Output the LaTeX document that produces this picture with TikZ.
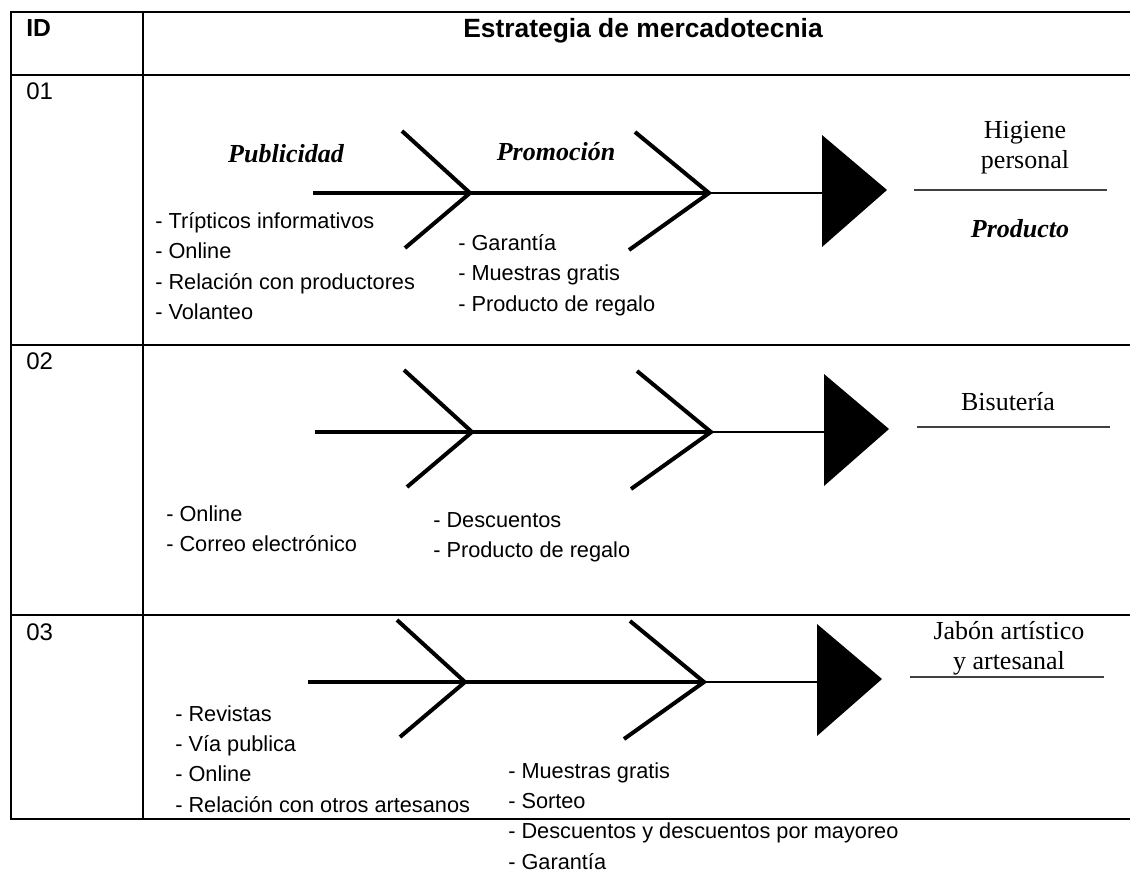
\documentclass[tikz,border=0pt]{standalone}
\usepackage{fontspec}
\setmainfont{Liberation Serif}
\setsansfont{Liberation Sans}
\usepackage{tikz}

\begin{document}
\begin{tikzpicture}[
  x=0.75pt, y=-0.75pt,
  grid/.style={line width=2.2pt},
  bone/.style={line width=3pt},
  neck/.style={line width=2pt},
  rule/.style={line width=1.2pt, draw=black!75},
  head/.style={inner sep=0pt, font=\sffamily\bfseries\fontsize{19.8}{23}\selectfont},
  idtext/.style={inner sep=0pt, anchor=west, font=\sffamily\fontsize{18}{22}\selectfont},
  items/.style={inner sep=0pt, anchor=north west, align=left, font=\sffamily\fontsize{16.3}{22.8}\selectfont},
  cat/.style={inner sep=0pt, font=\rmfamily\bfseries\itshape\fontsize{19.5}{22.5}\selectfont},
  prod/.style={inner sep=0pt, align=center, font=\rmfamily\fontsize{19.5}{22.5}\selectfont}
]
  \useasboundingbox (0,0) rectangle (1130,872);

  % table
  \draw[grid] (1130,12) -- (11,12) -- (11,819) -- (1130,819);
  \draw[grid] (143,12) -- (143,819);
  \foreach \ly in {75,345,615}
    \draw[grid] (11,\ly) -- (1130,\ly);

  \node[idtext, font=\sffamily\bfseries\fontsize{18.5}{22}\selectfont] (idhead) at (26,28) {ID};
  \node[head] (title) at (643,31) {Estrategia de mercadotecnia};
  \node[idtext] (id1) at (26,91) {01};
  \node[idtext] (id2) at (26,361) {02};
  \node[idtext] (id3) at (26,632) {03};

  % fishbones
  \foreach \r/\sy/\dx in {1/193/0, 2/432/2, 3/682/-5} {
    \coordinate (tail\r) at (313+\dx,\sy);
    \coordinate (ja\r) at (470+\dx,\sy);
    \coordinate (jb\r) at (709+\dx,\sy);
    \coordinate (base\r) at (822+\dx,\sy);
    \draw[bone] (tail\r) -- (jb\r);
    \draw[neck] (jb\r) -- (base\r);
    \draw[bone] (ja\r) ++(-68,-62) -- (ja\r) -- ++(-65,55);
    \draw[bone] (jb\r) ++(-74,-61) -- (jb\r) -- ++(-80,57);
    \fill (base\r) ++(0,-58) -- ++(65,55) -- ++(-65,57) -- cycle;
  }

  % row 01
  \node[cat] (pub1) at (286,154) {Publicidad};
  \node[cat] (promo1) at (556,152) {Promoción};
  \node[items] (pubitems1) at (155,212) {- Trípticos informativos\\- Online\\- Relación con productores\\- Volanteo};
  \node[items] (promoitems1) at (458,234) {- Garantía\\- Muestras gratis\\- Producto de regalo};
  \node[prod] (higiene) at (1025,148) {Higiene\\personal};
  \coordinate (ua1) at (914,190);
  \coordinate (ub1) at (1107,190);
  \draw[rule] (ua1) -- (ub1);
  \node[cat] (producto) at (1020,229) {Producto};

  % row 02
  \node[items] (pubitems2) at (166,505) {- Online\\- Correo electrónico};
  \node[items] (promoitems2) at (433,512) {- Descuentos\\- Producto de regalo};
  \node[prod] (bisuteria) at (1008,402) {Bisutería};
  \coordinate (ua2) at (917,427);
  \coordinate (ub2) at (1110,427);
  \draw[rule] (ua2) -- (ub2);

  % row 03
  \node[items] (pubitems3) at (175,705) {- Revistas\\- Vía publica\\- Online\\- Relación con otros artesanos};
  \node[items] (promoitems3) at (508,762) {- Muestras gratis\\- Sorteo\\- Descuentos y descuentos por mayoreo\\- Garantía};
  \node[prod] (jabon) at (1009,648) {Jabón artístico\\y artesanal};
  \coordinate (ua3) at (910,677);
  \coordinate (ub3) at (1104,677);
  \draw[rule] (ua3) -- (ub3);
\end{tikzpicture}
\end{document}
